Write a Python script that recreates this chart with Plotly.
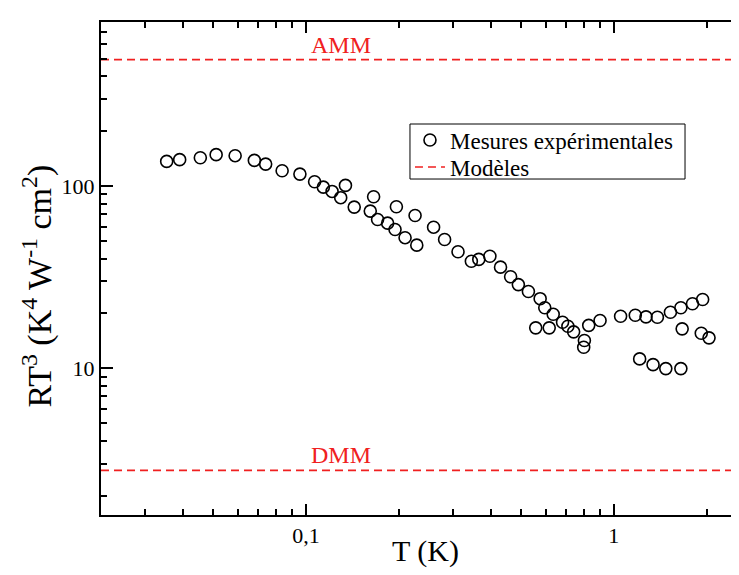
import math
import plotly.graph_objects as go

# Experimental data: T (K), RT^3 (K^4 W^-1 cm^2)
T_exp = [0.0353, 0.0389, 0.0454, 0.0511, 0.0589, 0.0680, 0.0740, 0.0837, 0.0956,
         0.1067, 0.1139, 0.1216, 0.1297, 0.1344, 0.1435, 0.1618, 0.1659, 0.1709,
         0.1842, 0.1947, 0.1967, 0.2099, 0.2262, 0.2291, 0.2598, 0.2821, 0.3119,
         0.3446, 0.3643, 0.3958, 0.4286, 0.4622, 0.4897, 0.5279, 0.5576, 0.5764,
         0.5967, 0.6168, 0.6355, 0.6815, 0.7092, 0.7404, 0.8024, 0.7983, 0.8288,
         0.9022, 1.052, 1.174, 1.213, 1.272, 1.341, 1.385, 1.475, 1.527, 1.651,
         1.651, 1.667, 1.801, 1.923, 1.943, 2.038]
R_exp = [136.7, 139.7, 143.2, 148.8, 146.9, 138.4, 132.1, 121.5, 116.4,
         105.7, 98.7, 93.5, 86.4, 100.9, 76.7, 72.9, 87.4, 65.6,
         62.6, 57.8, 77.0, 52.1, 69.0, 47.4, 59.5, 50.9, 43.6,
         38.7, 39.6, 41.2, 35.9, 31.8, 28.8, 26.4, 16.67, 24.1,
         21.5, 16.67, 19.8, 17.9, 17.0, 15.85, 14.2, 13.04, 17.2,
         18.3, 19.3, 19.55, 11.26, 19.15, 10.47, 19.06, 9.96, 20.3, 21.5,
         9.96, 16.46, 22.6, 15.57, 23.85, 14.69]

# Model levels
model_names = ["AMM", "DMM"]
model_values = [495.0, 2.75]

x_range = [0.02160, 2.55]
y_range = [1.565, 796.0]

x_tickvals = [0.1, 1]
x_ticktext = ["0,1", "1"]
x_minor = [0.03, 0.04, 0.05, 0.06, 0.07, 0.08, 0.09,
           0.2, 0.3, 0.4, 0.5, 0.6, 0.7, 0.8, 0.9, 2]
y_tickvals = [10, 100]
y_ticktext = ["10", "100"]
y_minor = [2, 3, 4, 5, 6, 7, 8, 9, 20, 30, 40, 50, 60, 70, 80, 90,
           200, 300, 400, 500, 600, 700]

FONT = "Liberation Serif"
RED = "#f02020"

fig = go.Figure()

fig.add_trace(go.Scatter(
    x=T_exp, y=R_exp, mode="markers", name="Mesures expérimentales",
    legend="legend",
    marker=dict(symbol="circle-open", size=12, color="black",
                line=dict(color="black", width=1.6)),
))

for i, (nm, v) in enumerate(zip(model_names, model_values)):
    fig.add_trace(go.Scatter(
        x=x_range, y=[v, v], mode="lines", name="Modèles",
        showlegend=(i == 0), legendgroup="mod", legend="legend2",
        line=dict(color=RED, width=1.6, dash="8px,5px"),
        hoverinfo="skip",
    ))
    fig.add_annotation(x=-0.885, y=math.log10(v), xref="x", yref="y",
                       text=nm, showarrow=False, yanchor="bottom", yshift=0,
                       font=dict(family=FONT, size=24, color=RED))

# Axis titles as annotations for exact placement
fig.add_annotation(text="T (K)", xref="paper", yref="paper", x=0.509, y=-0.073,
                   xanchor="center", yanchor="middle", showarrow=False,
                   font=dict(family=FONT, size=30, color="black"))
fig.add_annotation(text="RT<sup>3</sup> (K<sup>4</sup> W<sup>-1</sup> cm<sup>2</sup>)",
                   xref="paper", yref="paper", x=-0.1, y=0.464, textangle=-90,
                   xanchor="center", yanchor="middle", showarrow=False,
                   font=dict(family=FONT, size=34, color="black"))

# Legend frame
fig.add_shape(type="rect", xref="paper", yref="paper",
              x0=0.4843, x1=0.9154, y0=0.6815, y1=0.7931,
              line=dict(color="black", width=1), fillcolor="rgba(0,0,0,0)")

leg_common = dict(xanchor="left", yanchor="middle", borderwidth=0,
                  bgcolor="rgba(0,0,0,0)",
                  font=dict(family=FONT, size=23, color="black"), itemwidth=30)

fig.update_layout(
    width=731, height=567,
    margin=dict(l=93, r=0, t=14, b=60),
    plot_bgcolor="white", paper_bgcolor="white",
    font=dict(family=FONT, size=22, color="black"),
    showlegend=True,
    legend=dict(x=0.4843, y=0.7606, **leg_common),
    legend2=dict(x=0.4843, y=0.7059, **leg_common),
)

fig.update_xaxes(
    type="log", range=[math.log10(x_range[0]), math.log10(x_range[1])],
    tickvals=x_tickvals, ticktext=x_ticktext, automargin=False,
    ticks="inside", ticklen=11, tickwidth=1.5, tickcolor="black",
    minor=dict(tickvals=x_minor, ticks="inside", ticklen=6, tickwidth=1.5, tickcolor="black", showgrid=False),
    showline=True, linecolor="black", linewidth=2, mirror="ticks",
    showgrid=False, zeroline=False,
    tickfont=dict(family=FONT, size=22),
)
fig.update_yaxes(
    type="log", range=[math.log10(y_range[0]), math.log10(y_range[1])],
    tickvals=y_tickvals, ticktext=y_ticktext, automargin=False,
    ticks="inside", ticklen=12, tickwidth=1.5, tickcolor="black",
    minor=dict(tickvals=y_minor, ticks="inside", ticklen=6, tickwidth=1.5, tickcolor="black", showgrid=False),
    showline=True, linecolor="black", linewidth=2, mirror=False,
    showgrid=False, zeroline=False,
    tickfont=dict(family=FONT, size=22),
)

fig.write_html("out.html")
